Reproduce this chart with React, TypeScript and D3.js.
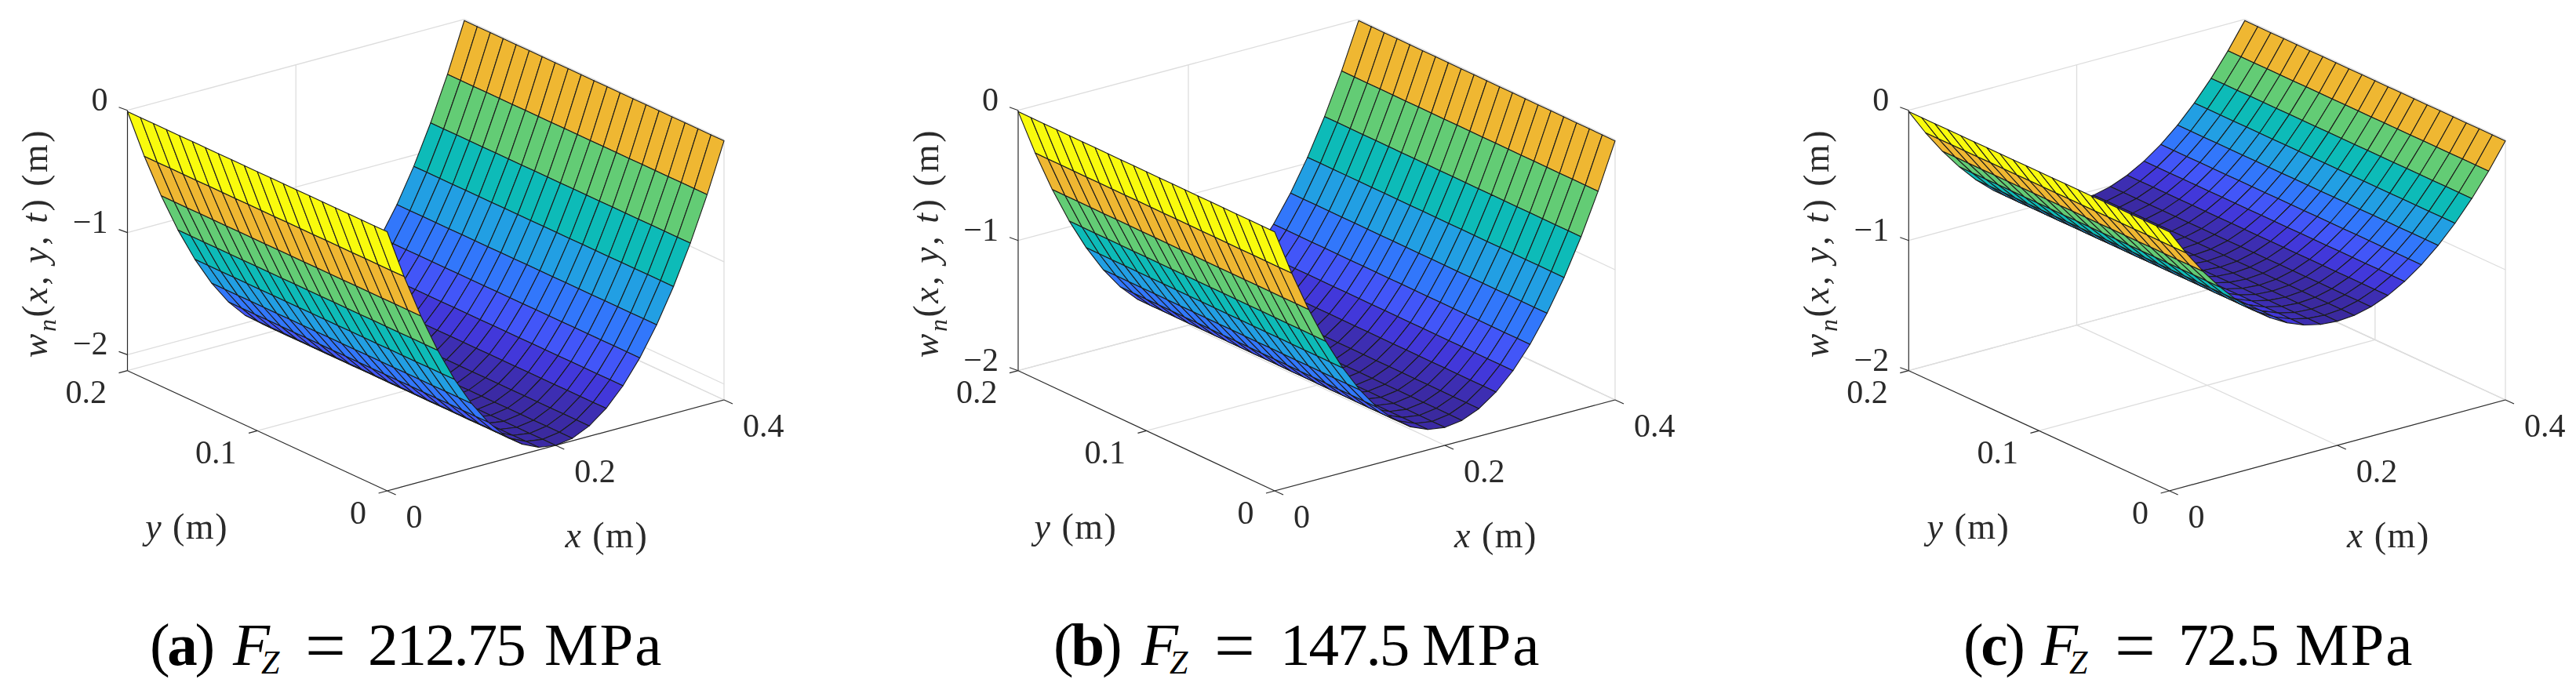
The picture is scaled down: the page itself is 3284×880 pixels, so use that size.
import React, { useEffect, useRef } from "react";
import * as d3 from "d3";

// mesh nodes (21 x 21)
const xGrid = [0, 0.02, 0.04, 0.06, 0.08, 0.1, 0.12, 0.14, 0.16, 0.18, 0.2, 0.22, 0.24, 0.26, 0.28, 0.3, 0.32, 0.34, 0.36, 0.38, 0.4];
const yGrid = [0, 0.01, 0.02, 0.03, 0.04, 0.05, 0.06, 0.07, 0.08, 0.09, 0.1, 0.11, 0.12, 0.13, 0.14, 0.15, 0.16, 0.17, 0.18, 0.19, 0.2];

// deflection along x for each load, same for every y
const profileA = [-0.01, -0.413, -0.773, -1.091, -1.367, -1.6, -1.791, -1.939, -2.045, -2.109, -2.13, -2.109, -2.045, -1.939, -1.791, -1.6, -1.367, -1.091, -0.773, -0.413, -0.01];
const profileB = [-0.01, -0.362, -0.677, -0.955, -1.195, -1.399, -1.566, -1.695, -1.788, -1.843, -1.862, -1.843, -1.788, -1.695, -1.566, -1.399, -1.195, -0.955, -0.677, -0.362, -0.01];
const profileC = [-0.01, -0.207, -0.383, -0.538, -0.673, -0.787, -0.88, -0.953, -1.005, -1.036, -1.046, -1.036, -1.005, -0.953, -0.88, -0.787, -0.673, -0.538, -0.383, -0.207, -0.01];

const xTicks = [0, 0.2, 0.4];
const yTicks = [0, 0.1, 0.2];
const zTicks = [0, -1, -2];

const captionNames = ["a", "b", "c"];
const captionValues = ["212.75", "147.5", "72.5"];

// parula
const colorStops = [0, 0.04, 0.09, 0.16, 0.25, 0.36, 0.49, 0.64, 0.81, 1];
const colorValues = ["#3a2b9f", "#3c2eb2", "#4238da", "#4256f8", "#3277fb", "#209fe3", "#0bbbb8", "#64cc74", "#efb730", "#f9fb0e"];

const panels = [
  {
    profile: profileA, zMin: -2.13, corner: [493.6, 626], xEnd: [923, 510], yEnd: [162.5, 472.7], zTop: 140.7,
    capX: { open: 191, f: 297, eq: 389, num: 469, unit: 694 },
  },
  {
    profile: profileB, zMin: -2, corner: [1625, 626], xEnd: [2059, 510], yEnd: [1298, 472.7], zTop: 140.7,
    capX: { open: 1343, f: 1455, eq: 1548, num: 1632, unit: 1813 },
  },
  {
    profile: profileC, zMin: -2, corner: [2765.6, 626], xEnd: [3194, 510], yEnd: [2433.3, 472.7], zTop: 140.7,
    capX: { open: 2503, f: 2602, eq: 2696, num: 2777, unit: 2926 },
  },
];

const serif = "'Liberation Serif', serif";
const inkColor = "#2b2b2b";
const gridColor = "#dddddd";

type Part = { t: string; i?: boolean; sub?: boolean };

const zLabelParts: Part[] = [
  { t: "w", i: true }, { t: "n", i: true, sub: true }, { t: "(" }, { t: "x", i: true }, { t: ", " },
  { t: "y", i: true }, { t: ", " }, { t: "t", i: true }, { t: ") (m)" },
];
const yLabelParts: Part[] = [{ t: "y", i: true }, { t: " (m)" }];
const xLabelParts: Part[] = [{ t: "x", i: true }, { t: " (m)" }];

const addParts = (sel: any, parts: Part[], subSize: number) => {
  let shift = 0;
  parts.forEach((p) => {
    const target = p.sub ? subSize * 0.35 : 0;
    sel
      .append("tspan")
      .attr("dy", target - shift)
      .attr("font-style", p.i ? "italic" : "normal")
      .attr("font-size", p.sub ? subSize : null)
      .text(p.t);
    shift = target;
  });
};

const App = () => {
  const svgRef = useRef<SVGSVGElement>(null);

  useEffect(() => {
    const svg = d3.select(svgRef.current);
    svg.selectAll("*").remove();

    // the plots are a slightly soft raster in the reference, the captions are not
    const soft = svg.append("defs").append("filter").attr("id", "soft").attr("x", 0).attr("y", 0).attr("width", 1).attr("height", 1);
    soft.append("feGaussianBlur").attr("stdDeviation", 0.55);
    const root = svg.append("g").attr("filter", "url(#soft)");
    root.append("rect").attr("width", 3284).attr("height", 880).attr("fill", "#fff");

    panels.forEach((panel, idx) => {
      const g = root.append("g");
      const [cx, cy] = panel.corner;

      // oblique projection: one scale per axis for each screen coordinate
      const xToX = d3.scaleLinear().domain([0, 0.4]).range([0, panel.xEnd[0] - cx]);
      const xToY = d3.scaleLinear().domain([0, 0.4]).range([0, panel.xEnd[1] - cy]);
      const yToX = d3.scaleLinear().domain([0, 0.2]).range([0, panel.yEnd[0] - cx]);
      const yToY = d3.scaleLinear().domain([0, 0.2]).range([0, panel.yEnd[1] - cy]);
      const zToY = d3.scaleLinear().domain([panel.zMin, 0]).range([0, panel.zTop - panel.yEnd[1]]);

      const project = (x: number, y: number, z: number): [number, number] => [
        cx + xToX(x) + yToX(y),
        cy + xToY(x) + yToY(y) + zToY(z),
      ];

      const seg = (a: number[], b: number[], color: string, w = 1) =>
        g
          .append("line")
          .attr("x1", project(a[0], a[1], a[2])[0])
          .attr("y1", project(a[0], a[1], a[2])[1])
          .attr("x2", project(b[0], b[1], b[2])[0])
          .attr("y2", project(b[0], b[1], b[2])[1])
          .attr("stroke", color)
          .attr("stroke-width", w);

      // back walls and floor grid
      const zMin = panel.zMin;
      zTicks.forEach((z) => {
        seg([0, 0.2, z], [0.4, 0.2, z], gridColor, 1.3);
        seg([0.4, 0.2, z], [0.4, 0, z], gridColor, 1.3);
      });
      seg([0, 0.2, zMin], [0.4, 0.2, zMin], gridColor, 1.3);
      seg([0.4, 0.2, zMin], [0.4, 0, zMin], gridColor, 1.3);
      xTicks.slice(1).forEach((x) => {
        seg([x, 0.2, zMin], [x, 0.2, 0], gridColor, 1.3);
        seg([x, 0, zMin], [x, 0.2, zMin], gridColor, 1.3);
      });
      yTicks.slice(0, 2).forEach((y) => {
        seg([0.4, y, zMin], [0.4, y, 0], gridColor, 1.3);
        seg([0, y, zMin], [0.4, y, zMin], gridColor, 1.3);
      });

      // axes with outward ticks
      seg([0, 0, zMin], [0.4, 0, zMin], inkColor, 1.2);
      seg([0, 0, zMin], [0, 0.2, zMin], inkColor, 1.2);
      seg([0, 0.2, zMin], [0, 0.2, 0], inkColor, 1.2);

      const tick = (p: [number, number], dx: number, dy: number) =>
        g
          .append("line")
          .attr("x1", p[0])
          .attr("y1", p[1])
          .attr("x2", p[0] + dx)
          .attr("y2", p[1] + dy)
          .attr("stroke", inkColor)
          .attr("stroke-width", 1.2);

      const label = (x: number, y: number, anchor: string, text: string) =>
        g
          .append("text")
          .attr("x", x)
          .attr("y", y)
          .attr("text-anchor", anchor)
          .attr("font-family", serif)
          .attr("font-size", 42)
          .attr("fill", inkColor)
          .text(text);

      const fmt = (v: number) => (v < 0 ? "\u2212" + Math.abs(v) : String(v));

      xTicks.forEach((x) => {
        const p = project(x, 0, zMin);
        tick(p, 11, 5);
        label(p[0] + 24, p[1] + 47, "start", fmt(x));
      });
      yTicks.forEach((y) => {
        const p = project(0, y, zMin);
        tick(p, -11, 3);
        label(p[0] - 26.5, p[1] + 41.5, "end", fmt(y));
      });
      zTicks.forEach((z) => {
        const p = project(0, 0.2, z);
        tick(p, -11, -4);
        label(p[0] - 25, p[1], "end", fmt(z));
      });

      // axis titles
      const xMid = project(0.2, 0, zMin);
      const yMid = project(0, 0.1, zMin);
      const zAxis = project(0, 0.2, zMin);
      const title = (x: number, y: number, parts: Part[], rotate = false) => {
        const t = g
          .append("text")
          .attr("text-anchor", "middle")
          .attr("font-family", serif)
          .attr("font-size", 46)
          .attr("fill", inkColor)
          .attr("transform", `translate(${x},${y})${rotate ? " rotate(-90)" : ""}`);
        addParts(t, parts, 32);
        return t;
      };
      title(xMid[0] + 65, xMid[1] + 129.5, xLabelParts).attr("letter-spacing", 1.5);
      title(yMid[0] - 90, yMid[1] + 138, yLabelParts).attr("letter-spacing", 1.5);
      title(zAxis[0] - 102.5, 310, zLabelParts, true).attr("letter-spacing", 2.5);

      // surface, one flat facet per mesh cell, coloured by its first node
      const profile = panel.profile;
      const color = d3
        .scaleLinear<string>()
        .domain(colorStops.map((t) => d3.min(profile)! + t * (d3.max(profile)! - d3.min(profile)!)))
        .range(colorValues)
        .interpolate(d3.interpolateRgb);

      const cells: { i: number; j: number }[] = [];
      d3.range(xGrid.length - 2, -1, -1).forEach((i) => {
        d3.range(yGrid.length - 2, -1, -1).forEach((j) => cells.push({ i, j }));
      });

      const facet = d3.line();
      g.append("g")
        .selectAll("path")
        .data(cells)
        .enter()
        .append("path")
        .attr("d", ({ i, j }) =>
          facet([
            project(xGrid[i], yGrid[j], profile[i]),
            project(xGrid[i + 1], yGrid[j], profile[i + 1]),
            project(xGrid[i + 1], yGrid[j + 1], profile[i + 1]),
            project(xGrid[i], yGrid[j + 1], profile[i]),
          ])! + "Z"
        )
        .attr("fill", ({ i }) => color(profile[i]))
        .attr("stroke", "#1c1c1c")
        .attr("stroke-width", 1.1)
        .attr("stroke-linejoin", "round");

      // caption, each piece placed on its own
      const capText = (x: number, text: string, size: number, baseline = 848) =>
        svg
          .append("text")
          .attr("x", x)
          .attr("y", baseline)
          .attr("font-family", serif)
          .attr("font-size", size)
          .attr("fill", "#000")
          .text(text);

      const capX = panel.capX;
      const open = capText(capX.open, "(", 77);
      open.attr("letter-spacing", -3.3);
      open.append("tspan").attr("font-weight", "bold").text(captionNames[idx]);
      open.append("tspan").text(")");
      const force = capText(capX.f, "F", 77).attr("font-style", "italic");
      force.append("tspan").attr("dx", -11).attr("dy", 11).attr("font-size", 42).text("Z");
      capText(capX.eq, "=", 92, 854);
      capText(capX.num, captionValues[idx], 77).attr("letter-spacing", -2);
      capText(capX.unit, "MPa", 77).attr("letter-spacing", 2);
    });
  }, []);

  return <svg ref={svgRef} width={3284} height={880} style={{ position: "absolute", left: 0, top: 0, display: "block" }} />;
};

export default App;
